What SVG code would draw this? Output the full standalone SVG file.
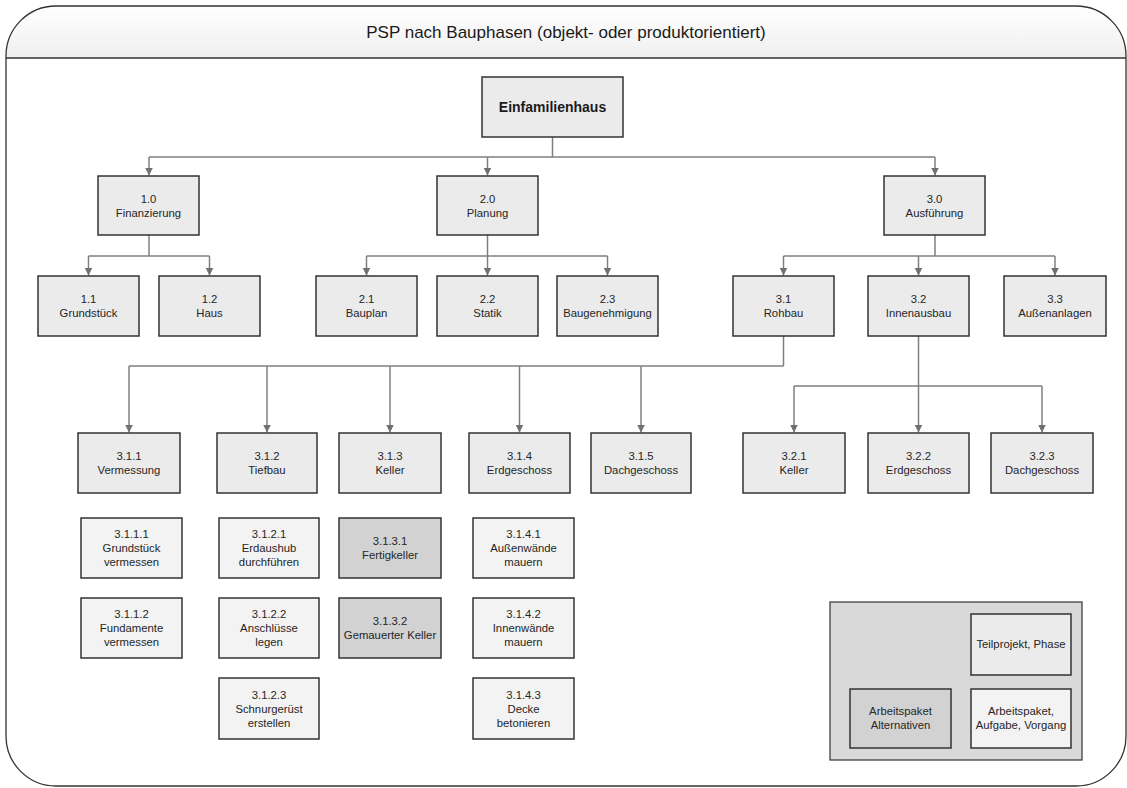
<svg xmlns="http://www.w3.org/2000/svg" width="1127" height="788" viewBox="0 0 1127 788">
<style>
text{font-family:"Liberation Sans",Arial,sans-serif;fill:#262626;text-anchor:middle}
.t{font-size:11.3px}
.title{font-size:17px;fill:#1a1a1a}
.root{font-size:14px;font-weight:bold;fill:#1a1a1a}
.b{fill:#ebebeb;stroke:#333;stroke-width:1.5}
.w{fill:#f3f3f3;stroke:#333;stroke-width:1.5}
.d{fill:#d2d2d2;stroke:#333;stroke-width:1.5}
.c{fill:none;stroke:#808080;stroke-width:1.5}
.a{fill:none;stroke:#808080;stroke-width:1.5;marker-end:url(#arr)}
</style>
<defs>
<linearGradient id="hg" x1="0" y1="0" x2="0" y2="1">
<stop offset="0" stop-color="#ffffff"/>
<stop offset="1" stop-color="#efefef"/>
</linearGradient>
<marker id="arr" markerUnits="userSpaceOnUse" markerWidth="9" markerHeight="9" viewBox="0 0 9 9" refX="8" refY="4.5" orient="auto">
<path d="M0,0.5 L8,4.5 L0,8.5 z" fill="#707070"/>
</marker>
</defs>
<g id="frame">
<path d="M6,58 L6,56 A50,50 0 0 1 56,6 L1076,6 A50,50 0 0 1 1126,56 L1126,58 Z" fill="url(#hg)"/>
<path d="M6,56 A50,50 0 0 1 56,6 L1076,6 A50,50 0 0 1 1126,56 L1126,736 A50,50 0 0 1 1076,786 L56,786 A50,50 0 0 1 6,736 Z" fill="none" stroke="#333" stroke-width="1.3"/>
<line x1="6" y1="58" x2="1126" y2="58" stroke="#333" stroke-width="1.3"/>
<text class="title" x="566" y="38">PSP nach Bauphasen (objekt- oder produktorientiert)</text>
</g>
<g id="connectors">
<path class="c" d="M552.5,137 V157 M149,157 H935"/>
<path class="a" d="M149,157 V175.5"/>
<path class="a" d="M487.5,157 V175.5"/>
<path class="a" d="M935,157 V175.5"/>
<path class="c" d="M149,235 V256 M88.5,256 H209.5"/>
<path class="a" d="M88.5,256 V275.5"/>
<path class="a" d="M209.5,256 V275.5"/>
<path class="c" d="M487.5,235 V256 M366.5,256 H607.5"/>
<path class="a" d="M366.5,256 V275.5"/>
<path class="a" d="M487.5,256 V275.5"/>
<path class="a" d="M607.5,256 V275.5"/>
<path class="c" d="M935,235 V256 M783.5,256 H1055"/>
<path class="a" d="M783.5,256 V275.5"/>
<path class="a" d="M918.5,256 V275.5"/>
<path class="a" d="M1055,256 V275.5"/>
<path class="c" d="M783.5,336 V366 M129,366 H783.5"/>
<path class="a" d="M129,366 V432.5"/>
<path class="a" d="M267,366 V432.5"/>
<path class="a" d="M390,366 V432.5"/>
<path class="a" d="M519.5,366 V432.5"/>
<path class="a" d="M641,366 V432.5"/>
<path class="c" d="M918.5,336 V386 M794,386 H1042"/>
<path class="a" d="M794,386 V432.5"/>
<path class="a" d="M918.5,386 V432.5"/>
<path class="a" d="M1042,386 V432.5"/>
</g>
<g id="n-root"><rect class="b" x="482" y="77" width="141" height="60"/><text class="root" x="552.5" y="112">Einfamilienhaus</text></g>
<g id="n-1-0"><rect class="b" x="98" y="176" width="101" height="59"/><text class="t" x="148.5" y="202.5">1.0</text><text class="t" x="148.5" y="216.5">Finanzierung</text></g>
<g id="n-2-0"><rect class="b" x="437" y="176" width="101" height="59"/><text class="t" x="487.5" y="202.5">2.0</text><text class="t" x="487.5" y="216.5">Planung</text></g>
<g id="n-3-0"><rect class="b" x="884" y="176" width="101" height="59"/><text class="t" x="934.5" y="202.5">3.0</text><text class="t" x="934.5" y="216.5">Ausführung</text></g>
<g id="n-1-1"><rect class="b" x="38" y="276" width="101" height="60"/><text class="t" x="88.5" y="302.5">1.1</text><text class="t" x="88.5" y="316.5">Grundstück</text></g>
<g id="n-1-2"><rect class="b" x="159" y="276" width="101" height="60"/><text class="t" x="209.5" y="302.5">1.2</text><text class="t" x="209.5" y="316.5">Haus</text></g>
<g id="n-2-1"><rect class="b" x="316" y="276" width="101" height="60"/><text class="t" x="366.5" y="302.5">2.1</text><text class="t" x="366.5" y="316.5">Bauplan</text></g>
<g id="n-2-2"><rect class="b" x="437" y="276" width="101" height="60"/><text class="t" x="487.5" y="302.5">2.2</text><text class="t" x="487.5" y="316.5">Statik</text></g>
<g id="n-2-3"><rect class="b" x="557" y="276" width="101" height="60"/><text class="t" x="607.5" y="302.5">2.3</text><text class="t" x="607.5" y="316.5">Baugenehmigung</text></g>
<g id="n-3-1"><rect class="b" x="733" y="276" width="101" height="60"/><text class="t" x="783.5" y="302.5">3.1</text><text class="t" x="783.5" y="316.5">Rohbau</text></g>
<g id="n-3-2"><rect class="b" x="868" y="276" width="101" height="60"/><text class="t" x="918.5" y="302.5">3.2</text><text class="t" x="918.5" y="316.5">Innenausbau</text></g>
<g id="n-3-3"><rect class="b" x="1004" y="276" width="102" height="60"/><text class="t" x="1055" y="302.5">3.3</text><text class="t" x="1055" y="316.5">Außenanlagen</text></g>
<g id="n-3-1-1"><rect class="b" x="78" y="433" width="102" height="60"/><text class="t" x="129" y="459.5">3.1.1</text><text class="t" x="129" y="473.5">Vermessung</text></g>
<g id="n-3-1-2"><rect class="b" x="217" y="433" width="100" height="60"/><text class="t" x="267" y="459.5">3.1.2</text><text class="t" x="267" y="473.5">Tiefbau</text></g>
<g id="n-3-1-3"><rect class="b" x="339" y="433" width="102" height="60"/><text class="t" x="390" y="459.5">3.1.3</text><text class="t" x="390" y="473.5">Keller</text></g>
<g id="n-3-1-4"><rect class="b" x="469" y="433" width="101" height="60"/><text class="t" x="519.5" y="459.5">3.1.4</text><text class="t" x="519.5" y="473.5">Erdgeschoss</text></g>
<g id="n-3-1-5"><rect class="b" x="591" y="433" width="100" height="60"/><text class="t" x="641" y="459.5">3.1.5</text><text class="t" x="641" y="473.5">Dachgeschoss</text></g>
<g id="n-3-2-1"><rect class="b" x="743" y="433" width="102" height="60"/><text class="t" x="794" y="459.5">3.2.1</text><text class="t" x="794" y="473.5">Keller</text></g>
<g id="n-3-2-2"><rect class="b" x="868" y="433" width="101" height="60"/><text class="t" x="918.5" y="459.5">3.2.2</text><text class="t" x="918.5" y="473.5">Erdgeschoss</text></g>
<g id="n-3-2-3"><rect class="b" x="991" y="433" width="102" height="60"/><text class="t" x="1042" y="459.5">3.2.3</text><text class="t" x="1042" y="473.5">Dachgeschoss</text></g>
<g id="n-3-1-1-1"><rect class="w" x="81" y="518" width="101" height="60"/><text class="t" x="131.5" y="538">3.1.1.1</text><text class="t" x="131.5" y="552">Grundstück</text><text class="t" x="131.5" y="566">vermessen</text></g>
<g id="n-3-1-1-2"><rect class="w" x="81" y="598" width="101" height="60"/><text class="t" x="131.5" y="618">3.1.1.2</text><text class="t" x="131.5" y="632">Fundamente</text><text class="t" x="131.5" y="646">vermessen</text></g>
<g id="n-3-1-2-1"><rect class="w" x="219" y="518" width="100" height="60"/><text class="t" x="269" y="538">3.1.2.1</text><text class="t" x="269" y="552">Erdaushub</text><text class="t" x="269" y="566">durchführen</text></g>
<g id="n-3-1-2-2"><rect class="w" x="219" y="598" width="100" height="60"/><text class="t" x="269" y="618">3.1.2.2</text><text class="t" x="269" y="632">Anschlüsse</text><text class="t" x="269" y="646">legen</text></g>
<g id="n-3-1-2-3"><rect class="w" x="219" y="678" width="100" height="61"/><text class="t" x="269" y="698.5">3.1.2.3</text><text class="t" x="269" y="712.5">Schnurgerüst</text><text class="t" x="269" y="726.5">erstellen</text></g>
<g id="n-3-1-3-1"><rect class="d" x="339" y="518" width="102" height="60"/><text class="t" x="390" y="544.5">3.1.3.1</text><text class="t" x="390" y="558.5">Fertigkeller</text></g>
<g id="n-3-1-3-2"><rect class="d" x="339" y="598" width="102" height="60"/><text class="t" x="390" y="624.5">3.1.3.2</text><text class="t" x="390" y="638.5">Gemauerter Keller</text></g>
<g id="n-3-1-4-1"><rect class="w" x="473" y="518" width="101" height="60"/><text class="t" x="523.5" y="538">3.1.4.1</text><text class="t" x="523.5" y="552">Außenwände</text><text class="t" x="523.5" y="566">mauern</text></g>
<g id="n-3-1-4-2"><rect class="w" x="473" y="598" width="101" height="60"/><text class="t" x="523.5" y="618">3.1.4.2</text><text class="t" x="523.5" y="632">Innenwände</text><text class="t" x="523.5" y="646">mauern</text></g>
<g id="n-3-1-4-3"><rect class="w" x="473" y="678" width="101" height="61"/><text class="t" x="523.5" y="698.5">3.1.4.3</text><text class="t" x="523.5" y="712.5">Decke</text><text class="t" x="523.5" y="726.5">betonieren</text></g>
<g id="legend">
<rect x="830" y="602" width="252" height="158" fill="#d9d9d9" stroke="#333" stroke-width="1.2"/>
<rect class="b" x="971" y="614" width="100" height="61"/>
<text class="t" x="1021" y="648">Teilprojekt, Phase</text>
<rect class="d" x="850" y="689" width="101" height="59"/>
<text class="t" x="900.5" y="715">Arbeitspaket</text>
<text class="t" x="900.5" y="729">Alternativen</text>
<rect class="w" x="971" y="689" width="100" height="59"/>
<text class="t" x="1021" y="715">Arbeitspaket,</text>
<text class="t" x="1021" y="729">Aufgabe, Vorgang</text>
</g>
</svg>
